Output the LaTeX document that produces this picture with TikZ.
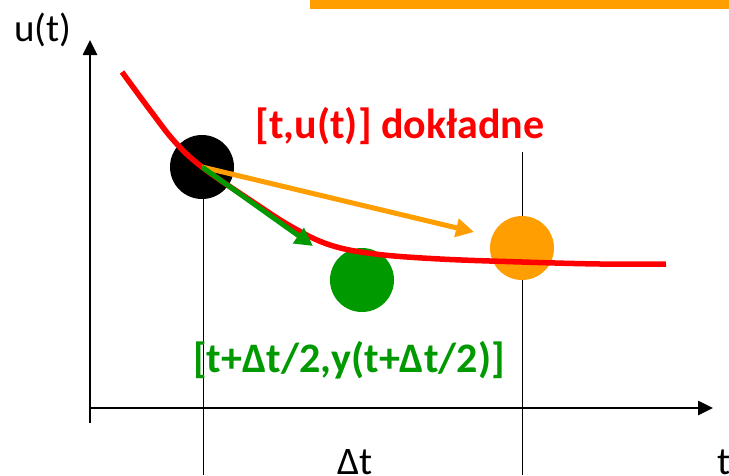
\documentclass[tikz,border=0pt]{standalone}
\usepackage{fontspec}
\setmainfont{Carlito}
\usetikzlibrary{arrows.meta, positioning, calc}

\definecolor{kred}{HTML}{FF0000}
\definecolor{kgreen}{HTML}{009900}
\definecolor{korange}{HTML}{FF9E00}

\tikzset{
    dot/.style={circle, minimum size=64pt, inner sep=0pt},
    axis/.style={line width=2.6pt, -{Triangle[length=15pt,width=14pt]}},
    guide/.style={line width=1pt},
    stepline/.style={line width=5pt, -{Triangle[length=18pt,width=18pt]}},
    lbl/.style={font=\fontsize{39}{44}\selectfont, inner sep=0pt},
    tag/.style={font=\fontsize{42}{48}\selectfont\bfseries, inner sep=0pt},
}

\begin{document}
\begin{tikzpicture}[x=1pt, y=-1pt]
    \useasboundingbox (0,0) rectangle (729,475);
    \fill[korange] (310,0) rectangle (729,9);

    % osie
    \coordinate (o) at (90,408);
    \draw[axis] (90,423) -- (90,40);
    \draw[axis] (o) -- (713,408);
    \node[lbl] (ut) at (43,30) {u(t)};
    \node[lbl] (t) at (724,462) {t};
    \node[lbl] (dt) at (355,462) {Δt};

    % linie pomocnicze
    \draw[guide] (203,167) -- (203,475);
    \draw[guide] (522,152) -- (522,475);

    % punkty
    \node[dot, fill=black] (p0) at (202,167) {};
    \node[dot, fill=kgreen] (pm) at (362,280) {};
    \node[dot, fill=korange] (p1) at (522,248) {};

    % rozwiazanie dokladne
    \draw[kred, line width=5.5pt] plot[smooth, tension=0.6] coordinates
        {(122,72) (150,110) (175,142) (202,167) (250,200) (292,227) (330,245) (375,254) (440,259) (522,262) (600,264) (666,264)};

    % kroki
    \coordinate (eo) at (474,232);
    \coordinate (eg) at (313,246);
    \draw[stepline, korange] (p0.center) -- (eo);
    \draw[stepline, kgreen] (p0.center) -- (eg);

    \node[tag, text=kred] (exact) at (400,126) {[t,u(t)] dokładne};
    \node[tag, text=kgreen] (mid) at (349,360) {[t+Δt/2,y(t+Δt/2)]};
\end{tikzpicture}
\end{document}
